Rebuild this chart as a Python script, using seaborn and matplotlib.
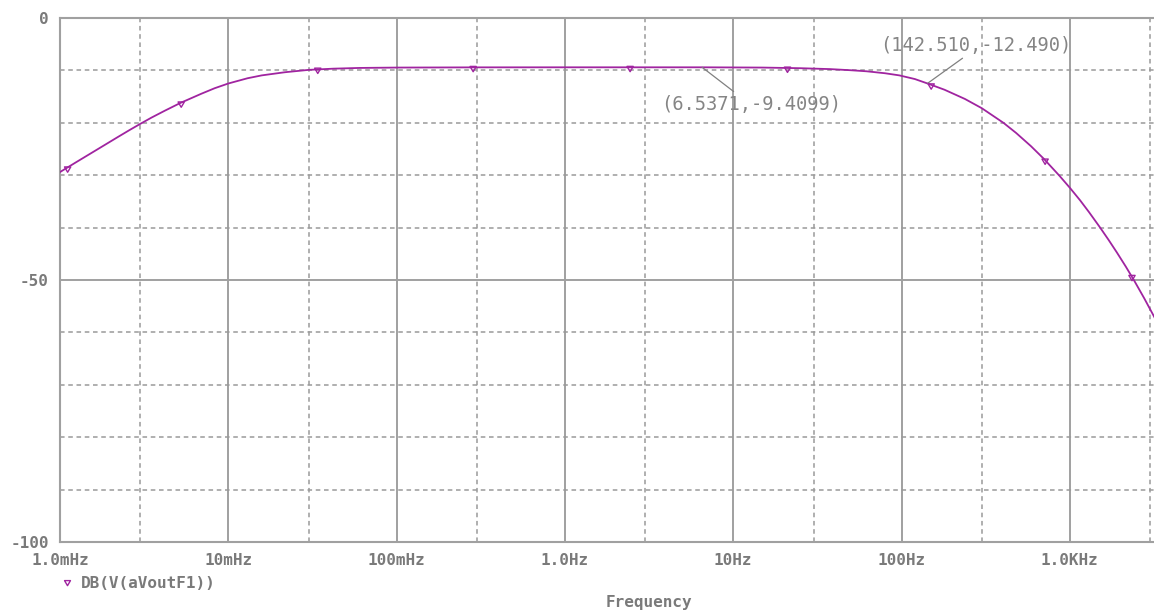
import numpy as np
import pandas as pd
import matplotlib
matplotlib.use("Agg")
import matplotlib.pyplot as plt
from matplotlib.lines import Line2D
from matplotlib.path import Path
import seaborn as sns

# ---- data ----
freq_hz = [1e-3, 1.25e-3, 1.53e-3, 1.85e-3, 2.21e-3, 2.6e-3, 3e-3, 3.5e-3,
           4.19e-3, 5.2e-3, 6.92e-3, 8.3e-3, 1e-2, 1.3e-2, 1.58e-2, 2.17e-2,
           3e-2, 4.2e-2, 6e-2, 0.1, 0.3, 1.0, 6.5371, 15, 25, 37.5, 50, 62,
           80, 97, 120, 142.51, 180, 238, 300, 403, 480, 588, 700, 866, 1000,
           1151, 1300, 1511, 1700, 1905, 2150, 2406, 2763, 3135, 3200]
db_vals = [-29.4, -27.5, -25.8, -24.2, -22.7, -21.35, -20.2, -19.0,
           -17.7, -16.2, -14.45, -13.4, -12.5, -11.5, -10.95, -10.35,
           -9.9, -9.67, -9.53, -9.46, -9.42, -9.41, -9.41, -9.46, -9.58,
           -9.75, -9.97, -10.17, -10.55, -10.95, -11.65, -12.49, -13.69, -15.45,
           -17.22, -20.0, -21.95, -24.47, -26.86, -30.08, -32.4, -34.8, -37.05,
           -39.97, -42.36, -44.77, -47.44, -50.06, -53.46, -56.73, -57.27]
marker_freq = [1.11e-3, 5.25e-3, 3.4e-2, 0.285, 2.44, 21, 150, 713, 2340]
marker_db = [-28.6, -16.2, -9.75, -9.42, -9.41, -9.55, -12.75, -27.1, -49.3]
xtick_vals = [1e-3, 1e-2, 1e-1, 1, 10, 100, 1000]
xtick_labels = ["1.0mHz", "10mHz", "100mHz", "1.0Hz", "10Hz", "100Hz", "1.0KHz"]
ytick_vals = [0, -50, -100]
ytick_labels = ["0", "-50", "-100"]
series_name = "DB(V(aVoutF1))"
annot1 = (6.5371, -9.4099)
annot2 = (142.510, -12.490)

# ---- style ----
sns.set_theme(style="white")
plt.rcParams['font.family'] = ['DejaVu Sans Mono', 'DejaVu Sans']
plt.rcParams['axes.unicode_minus'] = False

PURPLE = "#a024a0"
GRID = "#a0a0a0"
TXT = "#7a7a7a"

W, H = 1154, 610
fig = plt.figure(figsize=(W / 100, H / 100), dpi=100)
ax = fig.add_axes([60 / W, (H - 542) / H, (W - 60) / W, (542 - 18) / H])
ax.set_xscale("log")
ax.set_xlim(1e-3, 10 ** 3.5)
ax.set_ylim(-100, 0)

# grid
DASH = (0, (3, 2.4))
for d in xtick_vals:
    ax.axvline(d, color=GRID, lw=1.4, zorder=0)
    ax.axvline(3 * d, color="#9a9a9a", lw=1.1, ls=DASH, zorder=0)
for yv in range(-90, 0, 10):
    if yv == -50:
        ax.axhline(yv, color=GRID, lw=1.4, zorder=0)
    else:
        ax.axhline(yv, color="#9a9a9a", lw=1.1, ls=DASH, zorder=0)

df = pd.DataFrame({"f": freq_hz, "db": db_vals})
sns.lineplot(data=df, x="f", y="db", ax=ax, color=PURPLE, lw=1.3, zorder=3)

tri = Path([(-1.0, 0.3), (1.0, 0.3), (0.0, -1.4), (-1.0, 0.3)],
           [Path.MOVETO, Path.LINETO, Path.LINETO, Path.CLOSEPOLY])
sns.scatterplot(x=marker_freq, y=marker_db, ax=ax, marker=tri, s=40,
                facecolor="none", edgecolor=PURPLE, linewidth=1.0, zorder=4)

ax.set_xlabel("")
ax.set_ylabel("")
ax.set_xticks(xtick_vals)
ax.set_xticklabels(xtick_labels)
ax.set_yticks(ytick_vals)
ax.set_yticklabels(ytick_labels)
ax.minorticks_off()
ax.tick_params(axis="both", direction="out", length=4, width=1.2, color=GRID,
               labelcolor=TXT, labelsize=11.5, pad=4)
for lab in ax.get_xticklabels() + ax.get_yticklabels():
    lab.set_fontweight("bold")

for side in ["top", "left", "bottom"]:
    ax.spines[side].set_color(GRID)
    ax.spines[side].set_linewidth(1.5)
ax.spines["right"].set_visible(False)

# annotations
ax.annotate("(%.4f,%.4f)" % annot1, xy=annot1, xytext=(-41, -37),
            textcoords="offset pixels", ha="left", va="center",
            fontsize=13.5, color="#858585",
            arrowprops=dict(arrowstyle="-", color="#808080", lw=0.9,
                            relpos=(0.44, 0.9), shrinkA=0, shrinkB=0))
ax.annotate("(%.3f,%.3f)" % annot2, xy=annot2, xytext=(-47, 38),
            textcoords="offset pixels", ha="left", va="center",
            fontsize=13.5, color="#858585",
            arrowprops=dict(arrowstyle="-", color="#808080", lw=0.9,
                            relpos=(0.46, 0.05), shrinkA=0, shrinkB=0))

# legend
fig.add_artist(Line2D([67 / W], [1 - 581 / H], marker=tri, ms=6, mfc="none",
                      mec=PURPLE, mew=1.0, ls="none", transform=fig.transFigure))
fig.text(81 / W, 1 - 583 / H, series_name, ha="left", va="center",
         fontsize=11.5, fontweight="bold", color=TXT)
fig.text(649 / W, 1 - 602 / H, "Frequency", ha="center", va="center",
         fontsize=11.5, fontweight="bold", color=TXT)

fig.savefig("out.png", dpi=100)
